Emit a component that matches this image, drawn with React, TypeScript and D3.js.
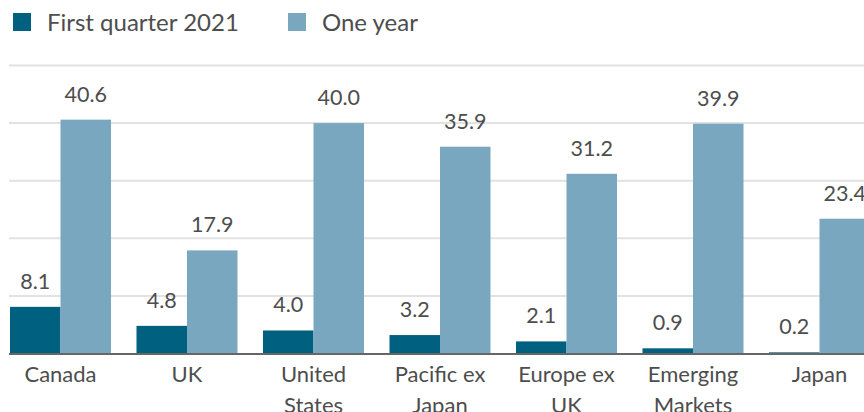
import React from "react";
import * as d3 from "d3";

const categories: string[][] = [
  ["Canada"],
  ["UK"],
  ["United", "States"],
  ["Pacific ex", "Japan"],
  ["Europe ex", "UK"],
  ["Emerging", "Markets"],
  ["Japan"],
];
const seriesNames = ["First quarter 2021", "One year"];
const firstQuarter = [8.1, 4.8, 4.0, 3.2, 2.1, 0.9, 0.2];
const oneYear = [40.6, 17.9, 40.0, 35.9, 31.2, 39.9, 23.4];
const yTicks = [0, 10, 20, 30, 40, 50];
const colors = ["#00607f", "#7aa7c0"];

const W = 864;
const H = 412;
const FONT = "Lato, 'Open Sans', sans-serif";
const TEXT = "#4d4d4d";

export default function App() {
  const keys = categories.map((c) => c.join(" "));
  const x0 = d3
    .scaleBand<string>()
    .domain(keys)
    .range([10, 870])
    .paddingInner(0.2016)
    .paddingOuter(0);
  const x1 = d3
    .scaleBand<string>()
    .domain(seriesNames)
    .range([0, x0.bandwidth()])
    .padding(0);
  const y = d3.scaleLinear().domain([0, 50]).range([353.5, 65.5]);
  const series = [firstQuarter, oneYear];

  return (
    <svg
      width={W}
      height={H}
      style={{ position: "absolute", left: 0, top: 0, display: "block" }}
      fontFamily={FONT}
    >
      <rect width={W} height={H} fill="#fff" />
      {/* legend */}
      {seriesNames.map((s, i) => {
        const lx = i === 0 ? 13 : 288;
        return (
          <g key={s}>
            <rect x={lx} y={13} width={18} height={18} fill={colors[i]} />
            <text x={lx + 34} y={31} fontSize={24} fill={TEXT}>
              {s}
            </text>
          </g>
        );
      })}
      {/* gridlines */}
      {yTicks.slice(1).map((t) => (
        <line
          key={t}
          x1={9}
          x2={W}
          y1={y(t)}
          y2={y(t)}
          stroke="#e2e2e2"
          strokeWidth={2}
        />
      ))}
      {/* bars */}
      {keys.map((k, ci) => (
        <g key={k} transform={`translate(${x0(k)},0)`}>
          {seriesNames.map((s, si) => {
            const v = series[si][ci];
            const bx = x1(s)!;
            const bw = x1.bandwidth();
            return (
              <g key={s}>
                <rect
                  x={bx}
                  y={y(v)}
                  width={bw}
                  height={y(0) - y(v)}
                  fill={colors[si]}
                />
                <text
                  x={bx + bw / 2}
                  y={y(v) - 18}
                  fontSize={21.5}
                  textAnchor="middle"
                  fill={TEXT}
                >
                  {v.toFixed(1)}
                </text>
              </g>
            );
          })}
        </g>
      ))}
      {/* baseline */}
      <line x1={9} x2={W} y1={354} y2={354} stroke="#666" strokeWidth={2} />
      {/* category labels */}
      {categories.map((c, ci) => {
        const cx = x0(keys[ci])! + x0.bandwidth() / 2;
        return (
          <text
            key={ci}
            x={cx}
            y={381.5}
            fontSize={22}
            textAnchor="middle"
            fill={TEXT}
          >
            {c.map((line, li) => (
              <tspan key={li} x={cx} dy={li === 0 ? 0 : 31}>
                {line}
              </tspan>
            ))}
          </text>
        );
      })}
    </svg>
  );
}
